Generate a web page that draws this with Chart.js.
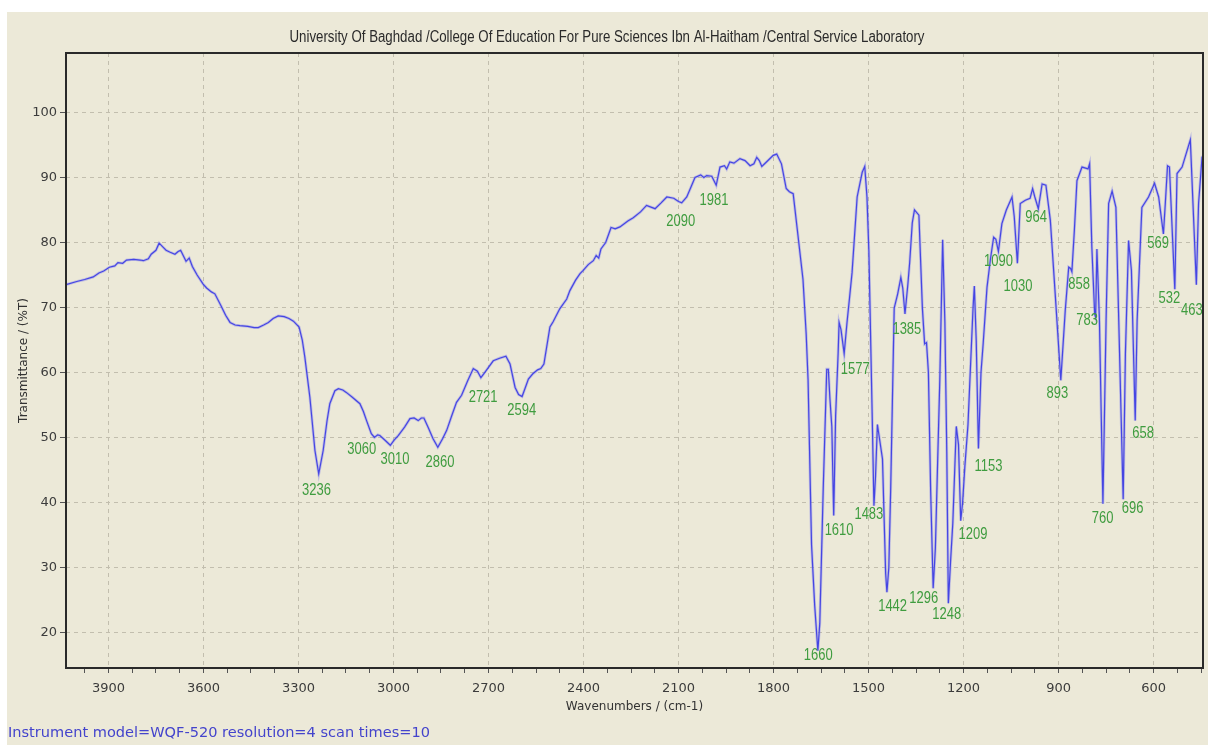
<!DOCTYPE html>
<html><head><meta charset="utf-8">
<script src="https://cdn.jsdelivr.net/npm/chart.js@4.4.1/dist/chart.umd.min.js"></script>
<style>html,body{margin:0;padding:0;background:#fff;overflow:hidden}#wrap{position:absolute;left:0;top:0;width:1208px;height:745px}</style>
</head><body><div id="wrap"><canvas id="c"></canvas></div>
<script>
// ---- data ----
const wavenumbers = [4034,4000,3975,3948,3930,3915,3897,3880,3870,3855,3843,3820,3800,3790,3774,3765,3750,3740,3730,3718,3705,3690,3680,3672,3664,3655,3645,3635,3620,3601,3590,3575,3564,3545,3530,3516,3500,3485,3460,3440,3427,3410,3395,3380,3364,3345,3330,3316,3298,3288,3280,3264,3248,3236,3222,3210,3201,3185,3174,3160,3148,3130,3106,3095,3085,3070,3060,3050,3043,3025,3010,2998,2985,2965,2948,2935,2922,2912,2904,2890,2875,2860,2845,2832,2815,2801,2785,2765,2748,2735,2724,2715,2700,2685,2665,2645,2632,2616,2605,2594,2585,2574,2560,2545,2535,2525,2506,2496,2475,2453,2443,2425,2411,2401,2385,2369,2360,2352,2345,2330,2313,2300,2285,2260,2243,2220,2201,2185,2174,2155,2137,2115,2100,2090,2074,2060,2048,2030,2020,2011,1995,1981,1969,1955,1948,1938,1925,1906,1890,1874,1862,1853,1845,1837,1820,1801,1790,1775,1760,1750,1738,1725,1707,1697,1691,1680,1670,1660,1654,1643,1632,1627,1622,1616,1610,1604,1596,1593,1587,1577,1568,1560,1552,1536,1520,1512,1505,1499,1488,1483,1478,1472,1466,1456,1446,1442,1436,1430,1419,1408,1398,1392,1385,1376,1370,1362,1355,1341,1330,1323,1317,1311,1304,1296,1289,1282,1275,1266,1259,1253,1248,1241,1234,1223,1216,1209,1203,1196,1186,1177,1170,1166,1160,1153,1145,1138,1126,1115,1105,1098,1090,1079,1065,1047,1040,1030,1021,1005,990,982,975,964,952,940,926,910,893,879,868,862,858,850,842,826,812,807,802,795,786,783,779,771,760,750,742,731,719,710,696,689,679,670,658,652,637,616,597,584,569,563,556,550,533,526,510,484,465,458,447,444];
const transmittance = [73.5,74.0,74.3,74.7,75.3,75.6,76.2,76.4,76.9,76.8,77.3,77.4,77.3,77.2,77.5,78.2,78.8,79.9,79.4,78.8,78.5,78.2,78.6,78.8,78.0,77.1,77.6,76.3,75.0,73.6,73.0,72.4,72.1,70.3,68.8,67.7,67.3,67.2,67.1,66.9,66.9,67.3,67.7,68.3,68.7,68.6,68.3,67.9,67.0,65.0,62.4,56.2,48.0,44.4,48.0,52.5,55.2,57.2,57.5,57.3,56.9,56.2,55.2,54.0,52.6,50.6,50.0,50.4,50.3,49.5,48.8,49.6,50.3,51.6,52.9,53.0,52.6,53.0,53.0,51.5,49.8,48.5,49.8,51.1,53.5,55.4,56.5,58.8,60.6,60.2,59.2,59.8,60.8,61.8,62.2,62.5,61.3,57.7,56.6,56.3,57.5,59.0,59.8,60.4,60.6,61.3,67.0,67.8,69.8,71.3,72.6,74.2,75.2,75.7,76.6,77.2,78.0,77.6,79.0,80.0,82.3,82.1,82.4,83.3,83.8,84.7,85.7,85.4,85.2,86.1,87.0,86.8,86.3,86.1,87.0,88.6,90.0,90.4,90.0,90.3,90.2,88.8,91.6,91.8,91.3,92.4,92.2,92.9,92.6,91.8,92.1,93.1,92.6,91.7,92.5,93.4,93.6,92.1,88.3,87.8,87.5,82.0,74.3,66.0,58.9,33.5,24.1,17.2,21.4,42.3,60.5,60.5,56.0,51.7,38.0,53.3,63.0,67.7,66.6,62.9,67.7,71.5,75.4,87.0,90.8,91.7,87.0,78.7,52.2,39.5,44.0,52.0,50.0,46.7,29.1,26.2,30.0,42.3,69.9,72.1,74.6,73.0,69.0,73.5,77.0,83.0,85.0,84.2,69.9,64.4,64.6,60.0,42.0,26.8,33.0,46.0,58.9,80.4,67.7,47.8,24.5,31.0,36.8,51.7,48.9,37.2,40.0,45.5,52.0,62.2,70.0,73.3,64.9,48.3,60.0,64.5,73.1,77.5,80.8,80.5,78.6,82.9,85.0,87.0,84.0,76.8,86.0,86.5,86.8,88.3,87.0,85.2,89.0,88.8,83.4,71.6,58.8,69.5,76.2,76.0,75.5,82.0,89.5,91.6,91.4,91.3,92.1,79.3,69.0,68.5,79.0,68.0,39.8,68.0,86.0,87.9,85.4,68.0,40.5,62.9,80.3,75.7,52.6,68.0,85.4,87.0,89.1,87.0,81.3,86.0,91.8,91.6,72.8,90.6,91.6,95.8,73.5,86.0,93.1,93.3];
const peakLabels = ['3236','3060','3010','2860','2721','2594','2090','1981','1660','1610','1577','1483','1385','1442','1296','1248','1209','1153','1090','1030','964','893','858','783','760','696','658','569','532','463'];
const xTickLabels = [3900,3600,3300,3000,2700,2400,2100,1800,1500,1200,900,600];
const yTickLabels = [20,30,40,50,60,70,80,90,100];

// label anchor points (data units) for each peak label, same order as peakLabels
const labelAnchors = [[3243,41.8],[3100,48.1],[2995,46.6],[2853,46.1],[2717,56.1],[2595,54.2],[2093,83.3],[1988,86.5],[1659,16.4],[1593,35.7],[1542,60.4],[1499,38.2],[1379,66.6],[1424,24.0],[1326,25.2],[1253,22.7],[1170,35.0],[1121,45.5],[1090,77.0],[1028,73.2],[971,83.8],[904,56.8],[835,73.6],[810,68.0],[761,37.6],[666,39.0],[633,50.6],[586,79.8],[550,71.4],[479,69.6]];

const points = wavenumbers.map((w, i) => ({x: w, y: transmittance[i]}));
const xTicks = [];
xTickLabels.forEach(v => { for (let k = 0; k < 4; k++) xTicks.push(v - k * 75); });
xTicks.push(3975);

const BG = '#ECE9D8';
const decor = {
  id: 'decor',
  beforeDraw(chart) {
    const ctx = chart.ctx;
    ctx.save();
    ctx.fillStyle = '#ffffff';
    ctx.fillRect(0, 0, chart.width, chart.height);
    ctx.fillStyle = BG;
    ctx.fillRect(7, 12, chart.width - 7, chart.height - 12);
    ctx.restore();
  },
  afterDatasetsDraw(chart) {
    const ctx = chart.ctx, a = chart.chartArea;
    const xs = chart.scales.x, ys = chart.scales.y;
    ctx.save();
    ctx.fillStyle = '#3f9c3f';
    ctx.font = '13px "Liberation Sans", Arial, sans-serif';
    ctx.textAlign = 'center';
    ctx.textBaseline = 'middle';
    peakLabels.forEach((t, i) => {
      const p = labelAnchors[i];
      ctx.save();
      ctx.translate(xs.getPixelForValue(p[0]), ys.getPixelForValue(p[1]));
      ctx.scale(1, 1.25);
      ctx.fillText(t, 0, 0);
      ctx.restore();
    });
    ctx.strokeStyle = '#2a2a2a';
    ctx.lineWidth = 2;
    ctx.strokeRect(a.left, a.top, a.right - a.left, a.bottom - a.top);
    ctx.restore();
  },
  afterDraw(chart) {
    const ctx = chart.ctx;
    ctx.save();
    const title = chart.options.plugins.title.text;
    ctx.font = '16px "Liberation Sans", Arial, sans-serif';
    ctx.fillStyle = '#2a2a2a';
    ctx.textAlign = 'center';
    ctx.textBaseline = 'alphabetic';
    let w = ctx.measureText(title).width;
    ctx.translate(607, 42);
    ctx.scale(635 / w, 1);
    ctx.fillText(title, 0, 0);
    ctx.restore();
    ctx.save();
    const foot = chart.options.plugins.subtitle.text;
    ctx.font = '14.5px "DejaVu Sans", Verdana, sans-serif';
    ctx.fillStyle = '#4444cc';
    ctx.textAlign = 'left';
    ctx.textBaseline = 'alphabetic';
    w = ctx.measureText(foot).width;
    ctx.translate(8, 737);
    ctx.scale(422 / w, 1);
    ctx.fillText(foot, 0, 0);
    ctx.restore();
  }
};

const tickFont = {family: '"DejaVu Sans", Verdana, sans-serif', size: 13};
new Chart(document.getElementById('c'), {
  type: 'line',
  data: {
    datasets: [
      {data: points, borderColor: 'rgba(110,110,240,0.35)', borderWidth: 2.8, pointRadius: 0, tension: 0},
      {data: points, borderColor: '#3030dc', borderWidth: 1.2, pointRadius: 0, tension: 0}
    ]
  },
  options: {
    responsive: true,
    maintainAspectRatio: false,
    animation: false,
    events: [],
    layout: {padding: {left: 10, right: 5, top: 53, bottom: 17}},
    plugins: {
      legend: {display: false},
      tooltip: {enabled: false},
      title: {display: false, text: 'University Of Baghdad /College Of Education For Pure Sciences Ibn Al-Haitham /Central Service Laboratory'},
      subtitle: {display: false, text: 'Instrument model=WQF-520 resolution=4 scan times=10'}
    },
    scales: {
      x: {
        type: 'linear', reverse: true, min: 444, max: 4034,
        afterBuildTicks: s => { s.ticks = xTicks.map(v => ({value: v})); },
        afterFit: s => { s.height = 60; },
        ticks: {
          autoSkip: false, maxRotation: 0, padding: 8, color: '#3c3c3c', font: tickFont,
          callback: v => (v % 300 === 0 ? String(v) : '')
        },
        grid: {
          color: ctx => (ctx.tick && ctx.tick.value % 300 === 0 ? '#c2beae' : 'rgba(0,0,0,0)'),
          lineWidth: 1, tickColor: '#555555', tickLength: 5, drawTicks: true
        },
        border: {display: false, dash: [4, 4]},
        title: {display: true, text: 'Wavenumbers / (cm-1)', color: '#333333',
          font: {family: '"DejaVu Sans", Verdana, sans-serif', size: 12}, padding: {top: 0, bottom: 13.5}}
      },
      y: {
        type: 'linear', min: 14.54, max: 109.15,
        afterBuildTicks: s => { s.ticks = yTickLabels.map(v => ({value: v})); },
        afterFit: s => { s.width = 56; },
        ticks: {padding: 3, color: '#3c3c3c', font: tickFont},
        grid: {color: '#c2beae', lineWidth: 1, tickColor: '#555555', tickLength: 6},
        border: {display: false, dash: [4, 4]},
        title: {display: true, text: 'Transmittance / (%T)', color: '#333333',
          font: {family: '"DejaVu Sans", Verdana, sans-serif', size: 12}, padding: {top: 7, bottom: 0}}
      }
    }
  },
  plugins: [decor]
});
</script>
</body></html>
